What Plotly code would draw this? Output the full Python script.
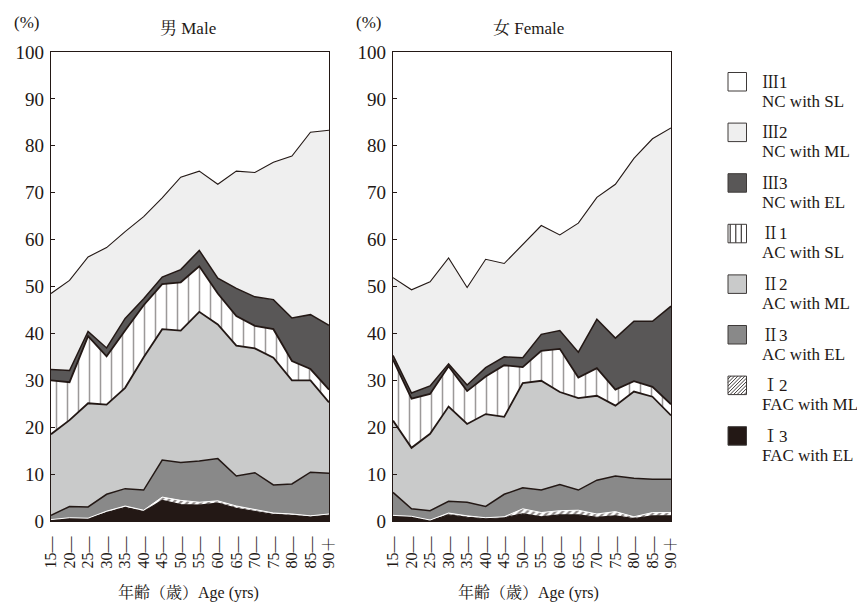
import plotly.graph_objects as go

ages = ["15—", "20—", "25—", "30—", "35—", "40—", "45—", "50—",
        "55—", "60—", "65—", "70—", "75—", "80—", "85—", "90＋"]

# ---- Male (%), layer values from bottom to top ----
male_I3   = [0.2, 0.6, 0.5, 1.8, 2.9, 2.0, 4.4, 3.5, 3.4, 3.8, 2.7, 2.0, 1.4, 1.2, 0.9, 1.3]
male_I2   = [0.1, 0.1, 0.1, 0.3, 0.3, 0.3, 0.7, 0.9, 0.6, 0.5, 0.5, 0.4, 0.3, 0.3, 0.2, 0.2]
male_II3  = [0.9, 2.4, 2.4, 3.6, 3.7, 4.3, 7.9, 8.1, 8.8, 9.0, 6.4, 7.9, 6.0, 6.4, 9.3, 8.7]
male_II2  = [17.3, 18.4, 22.1, 19.1, 21.5, 28.3, 27.9, 28.1, 31.8, 28.6, 27.8, 26.5, 27.1, 22.1, 19.6, 15.1]
male_II1  = [11.5, 8.1, 14.3, 10.3, 12.2, 11.1, 9.6, 10.3, 9.7, 6.6, 6.3, 4.8, 6.1, 4.1, 2.4, 2.7]
male_III3 = [2.3, 2.5, 1.0, 1.8, 2.6, 1.4, 1.5, 2.7, 3.4, 3.3, 5.9, 6.2, 6.3, 9.2, 11.6, 13.7]
male_III2 = [16.2, 19.2, 15.9, 21.4, 18.5, 17.5, 16.9, 19.7, 16.9, 20.0, 25.0, 26.5, 29.3, 34.5, 38.9, 41.6]
male_III1 = [51.5, 48.7, 43.7, 41.7, 38.3, 35.1, 31.1, 26.7, 25.4, 28.2, 25.4, 25.7, 23.5, 22.2, 17.1, 16.7]

# ---- Female (%) ----
female_I3   = [1.1, 0.9, 0.1, 1.3, 0.8, 0.5, 0.7, 1.5, 0.9, 1.3, 1.3, 0.8, 1.1, 0.5, 1.1, 1.1]
female_I2   = [0.1, 0.1, 0.1, 0.4, 0.3, 0.2, 0.2, 1.1, 0.9, 0.9, 1.0, 0.7, 0.9, 0.4, 0.7, 0.7]
female_II3  = [4.9, 1.6, 2.0, 2.5, 2.9, 2.4, 4.8, 4.5, 4.8, 5.6, 4.3, 7.2, 7.6, 8.2, 7.1, 7.1]
female_II2  = [15.3, 13.0, 16.4, 20.2, 16.7, 19.7, 16.5, 22.3, 23.3, 19.7, 19.6, 18.0, 15.0, 18.5, 17.6, 13.6]
female_II1  = [13.0, 10.5, 8.5, 8.6, 7.0, 8.0, 11.0, 3.4, 6.4, 9.2, 4.4, 5.9, 3.4, 2.2, 2.1, 2.4]
female_III3 = [0.9, 1.2, 1.7, 0.5, 1.3, 1.9, 1.8, 2.0, 3.5, 3.9, 5.4, 10.4, 11.0, 12.8, 14.0, 20.9]
female_III2 = [16.6, 22.0, 22.2, 22.6, 20.8, 23.1, 19.9, 24.2, 23.2, 20.4, 27.5, 26.0, 32.8, 34.7, 38.9, 38.0]
female_III1 = [48.1, 50.7, 49.0, 43.9, 50.2, 44.2, 45.1, 41.0, 37.0, 39.0, 36.5, 31.0, 28.2, 22.7, 18.5, 16.2]

legend_code = ["Ⅲ1", "Ⅲ2", "Ⅲ3", "Ⅱ1", "Ⅱ2", "Ⅱ3", "Ⅰ2", "Ⅰ3"]
legend_desc = ["NC with SL", "NC with ML", "NC with EL", "AC with SL",
               "AC with ML", "AC with EL", "FAC with ML", "FAC with EL"]

OFF = 8                      # page body margin in the browser
W, H = 865 - OFF, 603 - OFF
DARK = "#231815"
FONT = "Liberation Serif, Noto Serif CJK JP, Noto Sans CJK JP, serif"

styles = {
    "I3":   dict(fillcolor=DARK),
    "I2":   dict(fillpattern=dict(shape="/", bgcolor="white", fgcolor=DARK, size=5, solidity=0.45)),
    "II3":  dict(fillcolor="#898989"),
    "II2":  dict(fillcolor="#c9caca"),
    "II1":  dict(fillpattern=dict(shape="|", bgcolor="white", fgcolor="#3a3433", size=11, solidity=0.14)),
    "III3": dict(fillcolor="#595757"),
    "III2": dict(fillcolor="#efefef"),
    "III1": dict(fillcolor="white"),
}
line_w = {"I3": 1.2, "I2": 1.0, "II3": 1.5, "II2": 1.8, "II1": 1.8,
          "III3": 1.5, "III2": 1.1, "III1": 0}

male = [("I3", male_I3), ("I2", male_I2), ("II3", male_II3), ("II2", male_II2),
        ("II1", male_II1), ("III3", male_III3), ("III2", male_III2), ("III1", male_III1)]
female = [("I3", female_I3), ("I2", female_I2), ("II3", female_II3), ("II2", female_II2),
          ("II1", female_II1), ("III3", female_III3), ("III2", female_III2), ("III1", female_III1)]

fig = go.Figure()
for grp, series, xa, ya in [("m", male, "x", "y"), ("f", female, "x2", "y2")]:
    for key, vals in series:
        lc = "white" if key == "I2" else DARK
        fig.add_trace(go.Scatter(
            x=ages, y=vals, stackgroup=grp, mode="lines",
            line=dict(color=lc, width=line_w[key]) if line_w[key] > 0 else dict(width=0),
            xaxis=xa, yaxis=ya, showlegend=False, hoverinfo="skip",
            **styles[key]))

def PX(x):
    return (x - OFF) / W

def PY(y):
    return 1 - (y - OFF) / H

ydom = [PY(521), PY(52)]
xd1 = [PX(51), PX(329)]
xd2 = [PX(393), PX(671)]

axis_common = dict(showline=True, linecolor=DARK, linewidth=1.3, mirror=True,
                   showgrid=False, zeroline=False, automargin=False)
xaxis_common = dict(axis_common, type="category", range=[0, 15], tickangle=-90,
                    tickmode="array", tickvals=ages, ticktext=ages,
                    ticks="", ticklabelstandoff=8,
                    tickfont=dict(family=FONT, size=16, color=DARK))
yaxis_common = dict(axis_common, range=[0, 100], dtick=10, ticks="inside", ticklen=4,
                    tickcolor=DARK, ticklabelstandoff=2,
                    tickfont=dict(family=FONT, size=19, color=DARK))

fig.update_layout(
    width=W, height=H, margin=dict(l=0, r=0, t=0, b=0, autoexpand=False),
    paper_bgcolor="white", plot_bgcolor="white",
    xaxis=dict(xaxis_common, domain=xd1, anchor="y"),
    yaxis=dict(yaxis_common, domain=ydom, anchor="x"),
    xaxis2=dict(xaxis_common, domain=xd2, anchor="y2"),
    yaxis2=dict(yaxis_common, domain=ydom, anchor="x2"),
)

annotations = []
def txt(text, x, y, size=17, xanchor="center"):
    annotations.append(dict(text=text, x=PX(x), y=PY(y), xref="paper", yref="paper",
                            xanchor=xanchor, yanchor="middle", showarrow=False,
                            font=dict(family=FONT, size=size, color=DARK)))

txt("(%)", 26, 22, 17)
txt("(%)", 368, 22, 17)
txt("男 Male", 188, 29, 17)
txt("女 Female", 528, 29, 17)
txt("年齢（歳）Age (yrs)", 188, 592, 16)
txt("年齢（歳）Age (yrs)", 528, 592, 16)

shapes = []
bx0, bs, by0, step = 728, 18.5, 72.5, 50.6
fills = ["white", "#efefef", "#595757", "white", "#c9caca", "#898989", "white", DARK]

def seg(x0, y0, x1, y1, w=1.0):
    shapes.append(dict(type="line", xref="paper", yref="paper",
                       x0=PX(x0), y0=PY(y0), x1=PX(x1), y1=PY(y1),
                       line=dict(color="#3e3a39", width=w)))

for i, (code, desc) in enumerate(zip(legend_code, legend_desc)):
    y0 = by0 + step * i
    shapes.append(dict(type="rect", xref="paper", yref="paper",
                       x0=PX(bx0), y0=PY(y0 + bs), x1=PX(bx0 + bs), y1=PY(y0),
                       fillcolor=fills[i], line=dict(color="#3e3a39", width=1)))
    if code == "Ⅱ1":
        for fx in (0.12, 0.42, 0.72):
            seg(bx0 + bs * fx, y0, bx0 + bs * fx, y0 + bs, 1.2)
    if code == "Ⅰ2":
        c = 3.0
        while c < 2 * bs:
            xa_ = max(0, c - bs)
            xb_ = min(bs, c)
            seg(bx0 + xa_, y0 + (c - xa_), bx0 + xb_, y0 + (c - xb_), 1.0)
            c += 3.5
    txt(code, 760, y0 + 9.5, 17, xanchor="left")
    txt(desc, 760, y0 + 28.5, 17, xanchor="left")

fig.update_layout(annotations=annotations, shapes=shapes)
fig.write_html("out.html")
